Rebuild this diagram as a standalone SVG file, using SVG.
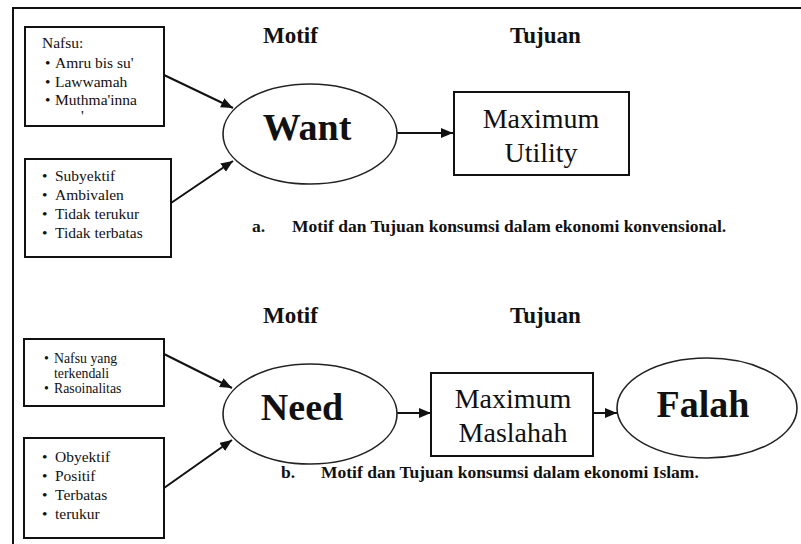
<svg xmlns="http://www.w3.org/2000/svg" width="801" height="544" viewBox="0 0 801 544">
  <style>
    text { font-family: "Liberation Serif", "Times New Roman", serif; fill: #111; }
    .frame { fill: none; stroke: #111; stroke-width: 2; }
    .box { fill: #fff; stroke: #111; stroke-width: 2; }
    .oval { fill: #fff; stroke: #222; stroke-width: 1.6; }
    .edge { stroke: #111; stroke-width: 2; fill: none; marker-end: url(#head); }
    .head { font-weight: bold; font-size: 23px; }
    .cap { font-weight: bold; font-size: 17.5px; }
    .big { font-weight: bold; font-size: 38px; text-anchor: middle; }
    .goal { font-size: 28px; text-anchor: middle; }
    .item { font-size: 15.5px; }
    .small { font-size: 13.8px; }
  </style>
  <defs>
    <marker id="head" markerUnits="userSpaceOnUse" markerWidth="13" markerHeight="11" refX="12" refY="5" orient="auto">
      <path d="M0,0 L12,5 L0,10 Z" fill="#111"/>
    </marker>
  </defs>

  <rect width="801" height="544" fill="#fff"/>

  <!-- page frame: top rule and left rule -->
  <path class="frame" d="M13,544 V8 H801"/>

  <!-- column headings -->
  <text class="head" x="263" y="43">Motif</text>
  <text class="head" x="510" y="43">Tujuan</text>
  <text class="head" x="263" y="323">Motif</text>
  <text class="head" x="510" y="323">Tujuan</text>

  <!-- connectors -->
  <g id="connectors">
    <line class="edge" x1="164" y1="75" x2="233" y2="108"/>
    <line class="edge" x1="171" y1="203" x2="233" y2="161"/>
    <line class="edge" x1="397" y1="133" x2="453" y2="133"/>
    <line class="edge" x1="164" y1="354" x2="232" y2="388"/>
    <line class="edge" x1="164" y1="488" x2="232" y2="440"/>
    <line class="edge" x1="397" y1="413" x2="431" y2="413"/>
    <line class="edge" x1="593" y1="413" x2="617" y2="413"/>
  </g>

  <!-- upper section: conventional economy -->
  <g id="nafsu-box">
    <rect class="box" x="25" y="27" width="139" height="99"/>
    <text class="item" x="42" y="48">Nafsu:</text>
    <g class="item">
      <text class="item" x="45" y="68">•</text><text class="item" x="55" y="68">Amru bis su'</text>
      <text class="item" x="45" y="87">•</text><text class="item" x="55" y="87">Lawwamah</text>
      <text class="item" x="45" y="105">•</text><text class="item" x="55" y="105">Muthma'inna</text>
    </g>
    <text class="item" x="81" y="121">'</text>
  </g>
  <g id="traits-box">
    <rect class="box" x="25" y="159" width="146" height="98"/>
    <text class="item" x="42" y="181">•</text><text class="item" x="55" y="181">Subyektif</text>
    <text class="item" x="42" y="200">•</text><text class="item" x="55" y="200">Ambivalen</text>
    <text class="item" x="42" y="219">•</text><text class="item" x="55" y="219">Tidak terukur</text>
    <text class="item" x="42" y="238">•</text><text class="item" x="55" y="238">Tidak terbatas</text>
  </g>
  <g id="want">
    <ellipse class="oval" cx="310" cy="134" rx="87" ry="50"/>
    <text class="big" x="307" y="140">Want</text>
  </g>
  <g id="utility">
    <rect class="box" x="454" y="92" width="175" height="83"/>
    <text class="goal" x="541" y="128">Maximum</text>
    <text class="goal" x="541" y="162">Utility</text>
  </g>
  <text class="cap" x="252" y="232">a.</text>
  <text class="cap" x="292" y="232">Motif dan Tujuan konsumsi dalam ekonomi konvensional.</text>

  <!-- lower section: Islamic economy -->
  <g id="controlled-box">
    <rect class="box" x="24" y="339" width="140" height="67"/>
    <text class="small" x="44" y="363">•</text><text class="small" x="54" y="363">Nafsu yang</text>
    <text class="small" x="54" y="378">terkendali</text>
    <text class="small" x="44" y="393">•</text><text class="small" x="54" y="393">Rasoinalitas</text>
  </g>
  <g id="objective-box">
    <rect class="box" x="24" y="438" width="140" height="100"/>
    <text class="item" x="42" y="462">•</text><text class="item" x="55" y="462">Obyektif</text>
    <text class="item" x="42" y="481">•</text><text class="item" x="55" y="481">Positif</text>
    <text class="item" x="42" y="500">•</text><text class="item" x="55" y="500">Terbatas</text>
    <text class="item" x="42" y="519">•</text><text class="item" x="55" y="519">terukur</text>
  </g>
  <g id="need">
    <ellipse class="oval" cx="310" cy="414" rx="87" ry="50"/>
    <text class="big" x="302" y="420">Need</text>
  </g>
  <g id="maslahah">
    <rect class="box" x="431" y="373" width="162" height="83"/>
    <text class="goal" x="513" y="408">Maximum</text>
    <text class="goal" x="513" y="442">Maslahah</text>
  </g>
  <g id="falah">
    <ellipse class="oval" cx="707" cy="408" rx="90" ry="50"/>
    <text class="big" x="703" y="417">Falah</text>
  </g>
  <text class="cap" x="281" y="478">b.</text>
  <text class="cap" x="321" y="478">Motif dan Tujuan konsumsi dalam ekonomi Islam.</text>
</svg>
